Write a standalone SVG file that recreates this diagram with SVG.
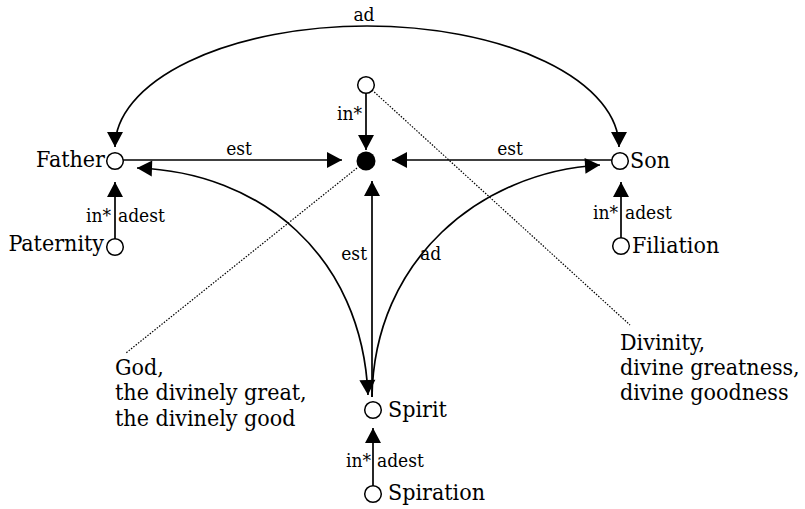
<svg xmlns="http://www.w3.org/2000/svg" width="805" height="509" viewBox="0 0 805 509">
<style>
text{font-family:"DejaVu Serif Condensed","DejaVu Serif",serif;font-stretch:condensed;fill:#000}
.n{font-size:23px}
.l{font-size:19px}
.e{text-anchor:end}
.m{text-anchor:middle}
.c{fill:#fff;stroke:#000;stroke-width:1.5}
.k{fill:none;stroke:#000;stroke-width:1.7}
.ar{marker-end:url(#a)}
.d{fill:none;stroke:#000;stroke-width:1.2;stroke-dasharray:1.5 1.5}
</style>
<defs>
<marker id="a" markerUnits="userSpaceOnUse" markerWidth="20" markerHeight="20" refX="0" refY="0" orient="auto-start-reverse" overflow="visible">
<path d="M0,0 L-15,-8 L-15,8 Z" fill="#000"/>
</marker>
</defs>
<rect width="805" height="509" fill="#fff"/>
<g id="connectors">
<path class="k" d="M115,147 A252 121 0 0 1 619,147" marker-start="url(#a)" marker-end="url(#a)"/>
<text class="l m" x="364" y="21">ad</text>
<path class="k ar" d="M123,160 L342,160"/>
<text class="l m" x="239" y="155">est</text>
<path class="k ar" d="M612,160 L392,160"/>
<text class="l m" x="510" y="155">est</text>
<path class="k ar" d="M366,93 L366,150"/>
<text class="l e" x="362" y="120">in*</text>
<path class="k ar" d="M372,397 L372,181"/>
<text class="l e" x="367" y="260">est</text>
<path class="k" d="M137,168 C260,172 362,255 368,395" marker-start="url(#a)" marker-end="url(#a)"/>
<path class="k ar" d="M372,397 C374,260 480,172 600,165"/>
<text class="l" x="420" y="260">ad</text>
<path class="k ar" d="M115,239 L115,182"/>
<text class="l e" x="111" y="222">in*</text>
<text class="l" x="118" y="222">adest</text>
<path class="k ar" d="M621,238 L621,182"/>
<text class="l e" x="618" y="219">in*</text>
<text class="l" x="625" y="219">adest</text>
<path class="k ar" d="M373,486 L373,428"/>
<text class="l e" x="371" y="467">in*</text>
<text class="l" x="377" y="467">adest</text>
<path class="d" d="M372,90 L630,325"/>
<path class="d" d="M357,168 L126,353"/>
</g>
<g id="top"><circle class="c" cx="366" cy="85" r="8.3"/></g>
<g id="god"><circle cx="366" cy="161" r="9.5" fill="#000"/></g>
<g id="father"><circle class="c" cx="115" cy="161" r="8.3"/><text class="n e" x="105" y="167">Father</text></g>
<g id="son"><circle class="c" cx="620" cy="161" r="8.3"/><text class="n" x="630" y="168">Son</text></g>
<g id="paternity"><circle class="c" cx="115" cy="247" r="8.3"/><text class="n e" x="104" y="251">Paternity</text></g>
<g id="filiation"><circle class="c" cx="621" cy="246" r="8.3"/><text class="n" x="632" y="253">Filiation</text></g>
<g id="spirit"><circle class="c" cx="373" cy="410" r="8.3"/><text class="n" x="388" y="417">Spirit</text></g>
<g id="spiration"><circle class="c" cx="373" cy="494" r="8.3"/><text class="n" x="388" y="500">Spiration</text></g>
<g id="god-label"><text class="n" x="115"><tspan x="115" y="375">God,</tspan><tspan x="115" y="400">the divinely great,</tspan><tspan x="115" y="426">the divinely good</tspan></text></g>
<g id="divinity-label"><text class="n" x="620"><tspan x="620" y="350">Divinity,</tspan><tspan x="620" y="375">divine greatness,</tspan><tspan x="620" y="400">divine goodness</tspan></text></g>
</svg>
